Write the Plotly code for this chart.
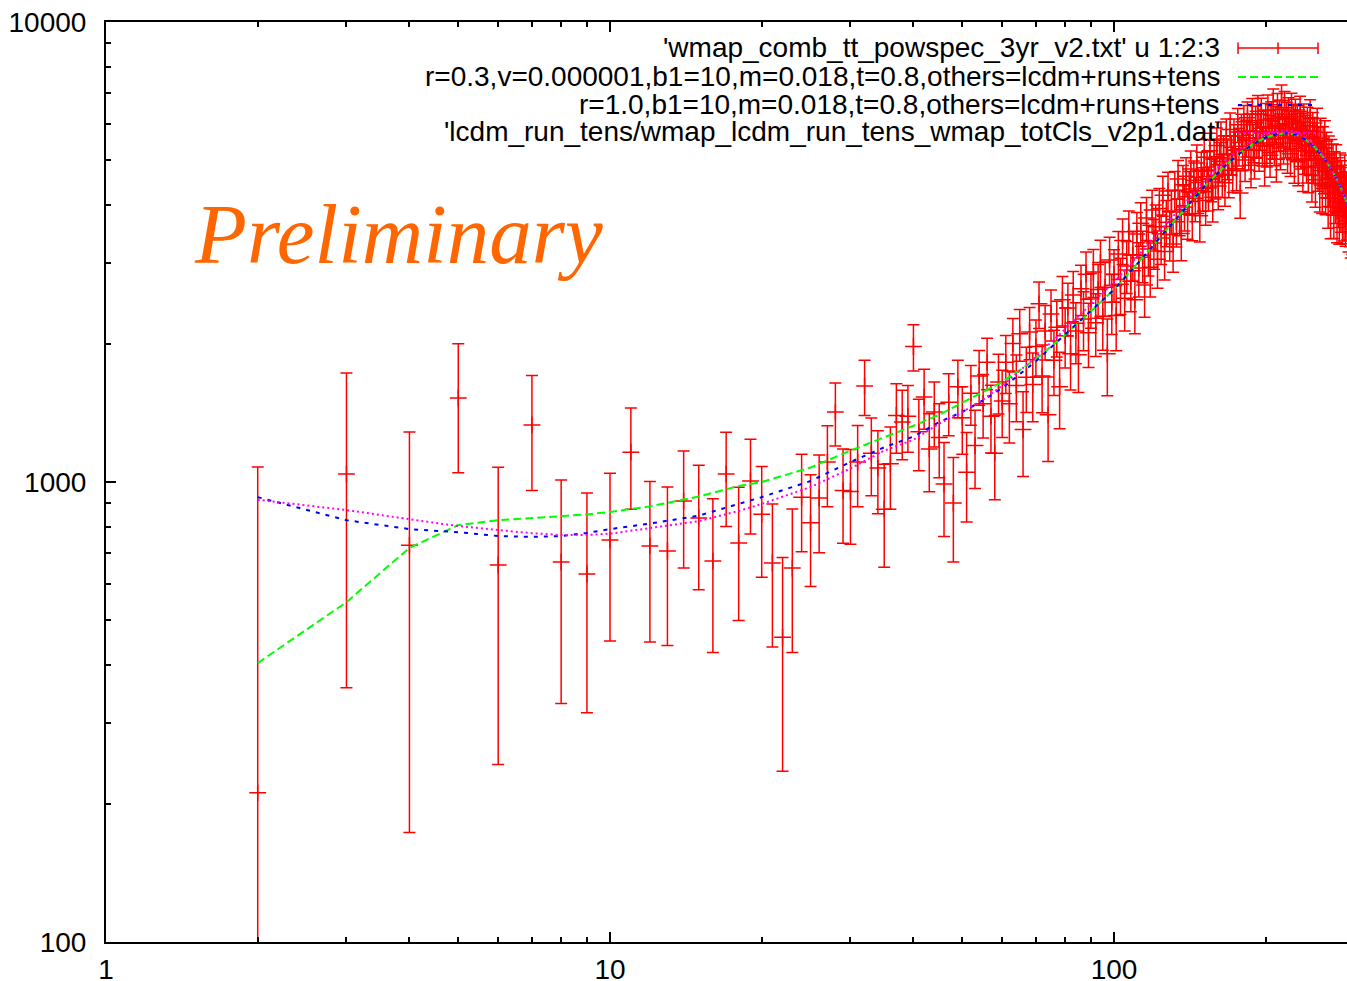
import plotly.graph_objects as go

# ---------------- data ----------------
ell = list(range(2, 301))

dl = [
    211, 1041, 729, 1522, 660, 1331, 670, 631, 748,                      # 2-10
    1161, 726, 708, 909, 835, 673, 1041, 737, 1005, 851,                  # 11-20
    667, 460, 650, 927, 815, 923, 1105, 1419, 958, 954,                   # 21-30
    1105, 1617, 1155, 1073, 873, 1095, 1395, 1350, 1390, 1970,            # 31-40
    1286, 1530, 1180, 1420, 1250, 990, 1490, 900, 1610, 1380,             # 41-50
    1050, 1560, 1200, 1700, 1480, 1820, 1390, 1155, 1650, 1500,           # 51-60
    1820, 1480, 2000, 1620, 2100, 1300, 1690, 2120, 1630, 1970,           # 61-70
    2440, 1700, 2130, 1400, 2320, 1840, 2170, 1610, 2490, 2080,           # 71-80
    2390, 1900, 2550, 2130, 1890, 2630, 2260, 2830, 2110, 2500,           # 81-90
    2860, 2220, 2620, 3000, 2290, 2650, 1900, 3040, 2460, 2830,           # 91-100
    2300, 3130, 2690, 3350, 2510, 2950, 3500, 2730, 3120, 2490,           # 101-110
    3460, 2920, 3650, 3110, 2680, 3750, 3210, 2930, 3900, 3310,           # 111-120
    3590, 3050, 3930, 3390, 4200, 3170, 3670, 4290, 3450, 3880,           # 121-130
    3290, 4300, 3680, 4560, 3870, 3470, 4430, 3960, 4620, 3820,           # 131-140
    4280, 4790, 3800, 4530, 4140, 4940, 4300, 3790, 4740, 4350,           # 141-150
    5080, 4090, 4750, 4360, 5250, 4550, 4160, 5050, 4610, 5390,           # 151-160
    4400, 4980, 5570, 4650, 5160, 4470, 5660, 5040, 4650, 5840,           # 161-170
    5150, 4760, 5650, 5260, 4800, 5980, 5370, 4250, 5790, 5260,           # 171-180
    6070, 5010, 5600, 6190, 5280, 5790, 4880, 6300, 5460, 5080,           # 181-190
    6040, 5580, 6400, 5260, 5780, 6300, 5390, 5910, 4930, 6120,           # 191-200
    5370, 6410, 5730, 5130, 6170, 5570, 6610, 5410, 6000, 5030,           # 201-210
    6450, 5770, 6220, 5320, 6750, 5910, 5460, 6510, 5610, 6140,           # 211-220
    5240, 6290, 5840, 5170, 6440, 5620, 6070, 5020, 6230, 5560,           # 221-230
    6010, 4970, 5870, 6330, 5360, 5820, 4850, 6060, 5240, 5700,           # 231-240
    5040, 5950, 4830, 5590, 6200, 5230, 4640, 5780, 5040, 5580,           # 241-250
    4540, 5450, 5910, 4870, 5340, 4450, 5590, 4930, 4420, 5330,           # 251-260
    4820, 5510, 4400, 5170, 4730, 4150, 5060, 4550, 3970, 4960,           # 261-270
    4380, 4850, 3960, 4650, 4220, 4840, 3880, 4500, 4140, 3850,           # 271-280
    4630, 4050, 4440, 3850, 4330, 3890, 4590, 3800, 4180, 3900,           # 281-290
    4290, 3700, 4030, 3780, 3600, 4000, 3650, 3890, 3550, 3700,           # 291-300
]

err = [
    867, 684, 556, 475, 417, 373, 340, 316, 297,                          # 2-10
    288, 277, 267, 259, 252, 247, 241, 237, 234, 230,                     # 11-20
    229, 225, 224, 222, 222, 221, 221, 222, 222, 222,                     # 21-30
    222, 222, 222, 220, 220, 222, 240, 232, 230, 228,                     # 31-40
    228, 228, 228, 229, 229, 229, 230, 230, 230, 231,                     # 41-50
    231, 232, 232, 232, 233, 233, 234, 240, 245, 250,                     # 51-60
    262, 264, 266, 268, 270, 272, 274, 276, 278, 280,                     # 61-70
    283, 286, 289, 292, 295, 298, 301, 304, 307, 310,                     # 71-80
    313, 316, 319, 322, 325, 328, 331, 334, 337, 340,                     # 81-90
    343, 346, 349, 352, 355, 358, 361, 364, 367, 370,                     # 91-100
    372, 374, 376, 378, 380, 382, 384, 386, 388, 390,                     # 101-110
    392, 394, 396, 398, 400, 402, 404, 406, 408, 410,                     # 111-120
    412, 414, 416, 418, 420, 422, 424, 426, 428, 430,                     # 121-130
    432, 434, 436, 438, 440, 442, 444, 446, 448, 450,                     # 131-140
    452, 454, 456, 458, 460, 462, 464, 466, 468, 470,                     # 141-150
    472, 474, 476, 478, 480, 482, 484, 486, 488, 490,                     # 151-160
    491, 492, 493, 494, 495, 496, 497, 498, 499, 500,                     # 161-170
    501, 502, 503, 504, 505, 506, 507, 508, 509, 510,                     # 171-180
    511, 512, 513, 514, 515, 516, 517, 518, 519, 520,                     # 181-190
    521, 522, 523, 524, 525, 526, 527, 528, 529, 530,                     # 191-200
    531, 532, 533, 534, 535, 536, 537, 538, 539, 540,                     # 201-210
    541, 542, 543, 544, 545, 546, 547, 548, 549, 550,                     # 211-220
    552, 553, 554, 555, 556, 557, 558, 559, 560, 561,                     # 221-230
    563, 564, 565, 566, 567, 568, 569, 570, 571, 572,                     # 231-240
    573, 574, 575, 576, 577, 578, 579, 580, 581, 582,                     # 241-250
    582, 583, 583, 584, 584, 585, 585, 586, 586, 587,                     # 251-260
    587, 588, 588, 589, 589, 590, 590, 591, 591, 592,                     # 261-270
    580, 578, 576, 574, 572, 570, 568, 566, 564, 562,                     # 271-280
    560, 558, 556, 554, 552, 550, 548, 546, 544, 542,                     # 281-290
    540, 538, 536, 534, 532, 530, 528, 526, 524, 522,                     # 291-300
]

model_l = [2, 3, 4, 5, 6, 7, 8, 9, 10, 12, 15, 18, 20, 25, 30, 35, 40, 45, 50,
           55, 60, 70, 80, 90, 100, 110, 120, 130, 140, 150, 160, 170, 180,
           190, 200, 210, 220, 230, 240, 250, 260, 270, 280, 290, 300]

green = [404, 548, 719, 806, 826, 835, 840, 850, 861, 885, 930, 980, 1000,
         1075, 1170, 1250, 1325, 1400, 1485, 1565, 1650, 1850, 2090, 2350,
         2620, 2940, 3280, 3640, 4000, 4350, 4680, 4980, 5240, 5450, 5610,
         5700, 5730, 5690, 5550, 5350, 5090, 4780, 4430, 4060, 3700]

blue = [927, 826, 790, 778, 763, 760, 763, 775, 790, 812, 845, 895, 927,
        1005, 1105, 1190, 1255, 1350, 1420, 1505, 1600, 1830, 2090, 2350,
        2620, 2940, 3280, 3640, 4000, 4350, 4680, 4980, 5240, 5450, 5610,
        5700, 5730, 5690, 5550, 5350, 5090, 4780, 4430, 4060, 3700]

magenta = [915, 869, 830, 802, 786, 774, 767, 767, 772, 795, 822, 865, 896,
           975, 1070, 1170, 1235, 1340, 1420, 1510, 1620, 1870, 2150, 2430,
           2720, 3050, 3400, 3760, 4120, 4470, 4800, 5100, 5350, 5560, 5710,
           5800, 5820, 5770, 5610, 5390, 5110, 4790, 4430, 4060, 3700]

legend_labels = [
    "'wmap_comb_tt_powspec_3yr_v2.txt' u 1:2:3",
    "r=0.3,v=0.000001,b1=10,m=0.018,t=0.8,others=lcdm+runs+tens",
    "r=1.0,b1=10,m=0.018,t=0.8,others=lcdm+runs+tens",
    "'lcdm_run_tens/wmap_lcdm_run_tens_wmap_totCls_v2p1.dat'",
]

x_ticks = [1, 10, 100]
y_ticks = [100, 1000, 10000]
x_minor = [2, 3, 4, 5, 6, 7, 8, 9, 20, 30, 40, 50, 60, 70, 80, 90, 200, 300]
y_minor = [200, 300, 400, 500, 600, 700, 800, 900,
           2000, 3000, 4000, 5000, 6000, 7000, 8000, 9000]

# ---------------- layout geometry ----------------
W, H = 1347, 981
L, R, T, B = 106, 0, 22, 39
PW = W - L - R
PH = H - T - B


def px(xp):
    return (xp - L) / PW


def py(yp):
    return (H - B - yp) / PH


RED = "#ff0000"
GREEN = "#00ff00"
BLUE = "#0000ff"
MAGENTA = "#ff00ff"

GREEN_DASH = "8px,4px"
BLUE_DASH = "4px,6px"
MAG_DASH = "2px,3px"

lower = [min(e, v - 90) for v, e in zip(dl, err)]

fig = go.Figure()

fig.add_trace(go.Scatter(
    x=ell, y=dl, mode="markers",
    marker=dict(symbol="cross-thin", size=12, color=RED,
                line=dict(color=RED, width=1.5)),
    error_y=dict(type="data", array=err, arrayminus=lower, symmetric=False,
                 color=RED, thickness=1.5, width=6),
    showlegend=False, hoverinfo="skip",
))

fig.add_trace(go.Scatter(x=model_l, y=green, mode="lines",
                         line=dict(color=GREEN, width=2, dash=GREEN_DASH),
                         showlegend=False, hoverinfo="skip"))
fig.add_trace(go.Scatter(x=model_l, y=blue, mode="lines",
                         line=dict(color=BLUE, width=2, dash=BLUE_DASH),
                         showlegend=False, hoverinfo="skip"))
fig.add_trace(go.Scatter(x=model_l, y=magenta, mode="lines",
                         line=dict(color=MAGENTA, width=2, dash=MAG_DASH),
                         showlegend=False, hoverinfo="skip"))

FONT = "Liberation Sans, Arial, Helvetica, sans-serif"

axis_common = dict(
    type="log", showgrid=False, zeroline=False, automargin=False,
    ticks="inside", ticklen=10, tickwidth=1.5, tickcolor="black",
    tickfont=dict(family=FONT, size=28, color="black"),
)

fig.update_layout(
    width=W, height=H,
    margin=dict(l=L, r=R, t=T, b=B, pad=0),
    paper_bgcolor="white", plot_bgcolor="white",
    showlegend=False,
    xaxis=dict(
        **axis_common,
        range=[0, 2.4623],
        tickvals=x_ticks, ticktext=[str(v) for v in x_ticks],
        showline=True, linewidth=2, linecolor="black", mirror="ticks",
        ticklabelstandoff=1,
        minor=dict(tickvals=x_minor, ticks="inside", ticklen=5,
                   tickwidth=1.5, tickcolor="black", showgrid=False),
    ),
    yaxis=dict(
        **axis_common,
        range=[2, 4],
        tickvals=y_ticks, ticktext=[str(v) for v in y_ticks],
        showline=True, linewidth=2, linecolor="black", mirror=False,
        ticklabelstandoff=12,
        minor=dict(tickvals=y_minor, ticks="inside", ticklen=5,
                   tickwidth=1.5, tickcolor="black", showgrid=False),
    ),
    yaxis2=dict(
        **axis_common,
        range=[2, 4], overlaying="y", side="right", anchor="x",
        tickvals=y_ticks, showticklabels=False, showline=False,
        minor=dict(tickvals=y_minor, ticks="inside", ticklen=5,
                   tickwidth=1.5, tickcolor="black", showgrid=False),
    ),
)

# legend (text right-aligned, keys on the right)
rows_y = [48, 76, 104, 132]
for lab, yy in zip(legend_labels, rows_y):
    fig.add_annotation(
        x=px(1222), y=py(yy), xref="paper", yref="paper",
        xanchor="right", yanchor="middle", showarrow=False,
        text=lab, font=dict(family=FONT, size=28, color="black"),
    )

kx0, kx1 = px(1238), px(1318)
shapes = []
shapes.append(dict(type="line", xref="paper", yref="paper", x0=kx0, x1=kx1,
                   y0=py(48), y1=py(48), line=dict(color=RED, width=1.5)))
for xk in (1238, 1278, 1318):
    shapes.append(dict(type="line", xref="paper", yref="paper",
                       x0=px(xk), x1=px(xk), y0=py(42.5), y1=py(54),
                       line=dict(color=RED, width=1.5)))
shapes.append(dict(type="line", xref="paper", yref="paper", x0=kx0, x1=kx1,
                   y0=py(77), y1=py(77),
                   line=dict(color=GREEN, width=2, dash=GREEN_DASH)))
shapes.append(dict(type="line", xref="paper", yref="paper", x0=kx0, x1=kx1,
                   y0=py(105), y1=py(105),
                   line=dict(color=BLUE, width=2, dash=BLUE_DASH)))
shapes.append(dict(type="line", xref="paper", yref="paper", x0=kx0, x1=kx1,
                   y0=py(133), y1=py(133),
                   line=dict(color=MAGENTA, width=2, dash=MAG_DASH)))
fig.update_layout(shapes=shapes)

fig.add_annotation(
    x=px(192), y=py(234), xref="paper", yref="paper",
    xanchor="left", yanchor="middle", showarrow=False,
    text="Preliminary",
    font=dict(family="Liberation Serif, Times New Roman, serif", size=85,
              color="#ff6600", style="italic"),
)

fig.write_html("out.html")
